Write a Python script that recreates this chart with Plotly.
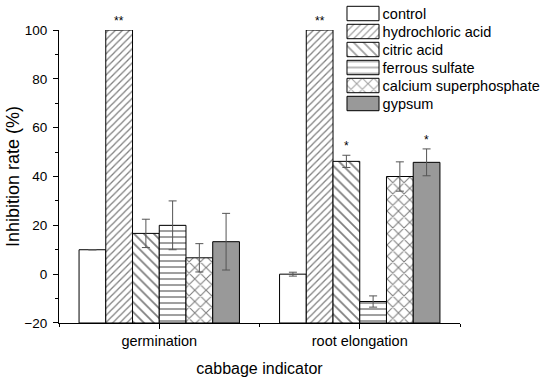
import plotly.graph_objects as go

groups = ["germination", "root elongation"]
series = ["control", "hydrochloric acid", "citric acid", "ferrous sulfate",
          "calcium superphosphate", "gypsum"]
values = {
    "control": [10.0, 0.0],
    "hydrochloric acid": [100.0, 100.0],
    "citric acid": [16.7, 46.2],
    "ferrous sulfate": [20.0, -11.2],
    "calcium superphosphate": [6.7, 40.0],
    "gypsum": [13.3, 45.8],
}
errors = {
    "control": [0.0, 0.8],
    "hydrochloric acid": [0.0, 0.0],
    "citric acid": [5.8, 2.5],
    "ferrous sulfate": [10.0, 2.3],
    "calcium superphosphate": [5.8, 6.0],
    "gypsum": [11.6, 5.5],
}
signif = {
    "control": ["", ""],
    "hydrochloric acid": ["**", "**"],
    "citric acid": ["", "*"],
    "ferrous sulfate": ["", ""],
    "calcium superphosphate": ["", ""],
    "gypsum": ["", "*"],
}

shapes_ = {"control": "", "hydrochloric acid": "/", "citric acid": "\\",
           "ferrous sulfate": "-", "calcium superphosphate": "x", "gypsum": ""}
sizes_ = {"control": 6, "hydrochloric acid": 5, "citric acid": 7,
          "ferrous sulfate": 6, "calcium superphosphate": 8, "gypsum": 6}
fills = {"control": "white", "hydrochloric acid": "white", "citric acid": "white",
         "ferrous sulfate": "white", "calcium superphosphate": "white", "gypsum": "#999999"}

BASE = -20
FONT = "Arial, Liberation Sans, sans-serif"
xpos = list(range(len(groups)))

fig = go.Figure()
bargap = 0.2
n = len(series)
w = (1 - bargap) / n
annotations = []
for i, s in enumerate(series):
    fig.add_trace(go.Bar(
        x=xpos, y=[v - BASE for v in values[s]], base=BASE, name=s,
        marker=dict(color=fills[s], line=dict(color="black", width=1),
                    pattern=dict(shape=shapes_[s], fgcolor="black", bgcolor=fills[s],
                                 size=sizes_[s], solidity=0.25)),
        error_y=dict(type="data", array=errors[s], visible=True,
                     color="#555555", thickness=1, width=4),
        showlegend=False, xaxis="x", yaxis="y",
    ))
    off = -(1 - bargap) / 2 + (i + 0.5) * w
    for g in xpos:
        if signif[s][g]:
            annotations.append(dict(
                x=g + off, y=values[s][g] + errors[s][g], xref="x", yref="y",
                text=signif[s][g], showarrow=False, yanchor="bottom",
                font=dict(family=FONT, size=12, color="black"), yshift=0))

# legend drawn as a small inset bar chart
fig.add_trace(go.Bar(
    y=series, x=[1] * n, orientation="h",
    marker=dict(color=[fills[s] for s in series], line=dict(color="black", width=1),
                pattern=dict(shape=[shapes_[s] for s in series], fgcolor="black",
                             bgcolor=[fills[s] for s in series],
                             size=[sizes_[s] for s in series], solidity=0.25)),
    showlegend=False, xaxis="x2", yaxis="y2", hoverinfo="skip",
))

fig.update_layout(
    width=550, height=380,
    margin=dict(l=59, r=90, t=3, b=57, autoexpand=False),
    paper_bgcolor="white", plot_bgcolor="white",
    barmode="group", bargap=bargap, bargroupgap=0,
    font=dict(family=FONT, size=14, color="black"),
    annotations=annotations,
    xaxis=dict(range=[-0.5, 1.5], tickmode="array", tickvals=xpos, ticktext=groups,
               ticks="outside", ticklen=5, tickcolor="black", showline=True,
               linecolor="black", linewidth=1, showgrid=False, zeroline=False,
               tickfont=dict(size=14.5), anchor="y", automargin=False,
               minor=dict(tickmode="linear", tick0=-0.5, dtick=0.5, ticklen=3,
                          ticks="outside", tickcolor="black", showgrid=False),
               title=dict(text="cabbage indicator", font=dict(size=16), standoff=14)),
    yaxis=dict(domain=[0, 0.9156], range=[-20, 100], dtick=20, tick0=0,
               ticks="outside", ticklen=5, tickcolor="black", showline=True,
               linecolor="black", linewidth=1, showgrid=False, zeroline=False,
               tickfont=dict(size=13.5), ticklabelstandoff=3, automargin=False,
               minor=dict(dtick=10, ticklen=3, ticks="outside", tickcolor="black",
                          showgrid=False),
               title=dict(text="Inhibition rate (%)", font=dict(size=18), standoff=0)),
    xaxis2=dict(domain=[0.7142, 0.8020], range=[-0.05, 1.05], visible=False,
                anchor="y2", fixedrange=True, automargin=False),
    yaxis2=dict(domain=[0.6578, 0.9953], anchor="x2", type="category",
                categoryorder="array", categoryarray=series, autorange="reversed",
                side="right", showline=False, ticks="", showgrid=False,
                zeroline=False, tickfont=dict(size=14.5), ticklabelstandoff=1,
                automargin=False),
)
fig.write_html("out.html", config={"displayModeBar": False},
               post_script="document.body.style.margin='0px';")
